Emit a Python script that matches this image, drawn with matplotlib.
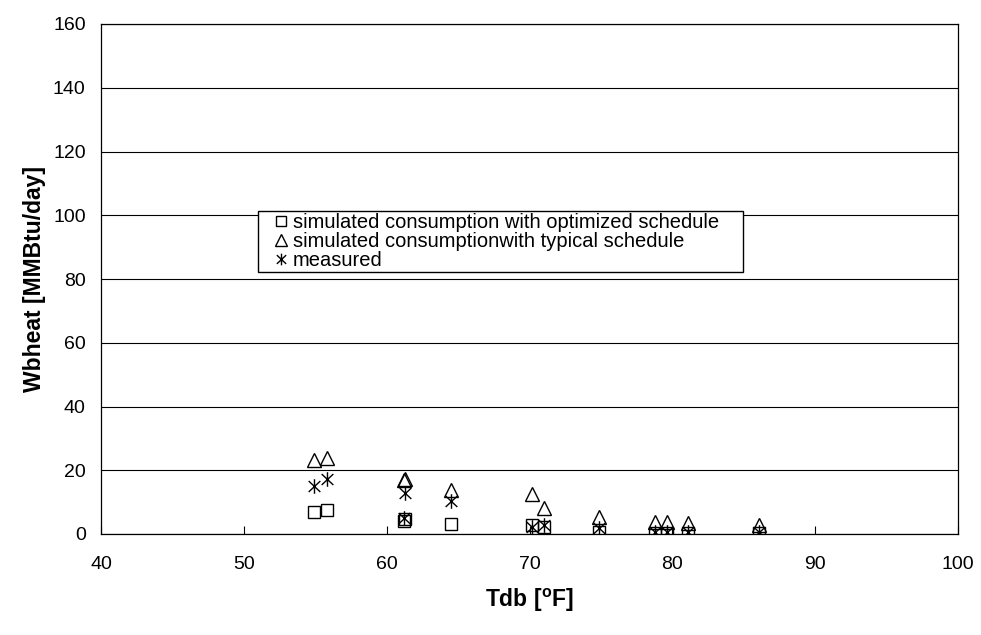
import matplotlib
matplotlib.use("Agg")
import matplotlib.pyplot as plt
from matplotlib.path import Path
from matplotlib.patches import Rectangle

plt.rcParams['font.family'] = ['Liberation Sans', 'DejaVu Sans']

# Data
tdb = [54.9, 55.8, 61.2, 61.3, 64.5, 70.2, 71.0, 74.9, 78.8, 79.6, 81.1, 86.1]
sim_optimized = [7.0, 7.5, 4.2, 4.6, 3.0, 2.7, 2.3, 0.6, 0.3, 0.3, 0.3, 0.3]
sim_typical = [23.2, 23.7, 16.8, 17.2, 13.8, 12.5, 8.2, 5.4, 3.9, 3.9, 3.3, 2.8]
measured = [15.0, 17.2, 4.9, 12.9, 10.4, 2.1, 2.8, 1.8, 0.7, 0.7, 0.7, 0.7]

labels = ["simulated consumption with optimized schedule",
          "simulated consumptionwith typical schedule",
          "measured"]
xticks = [40, 50, 60, 70, 80, 90, 100]
yticks = [0, 20, 40, 60, 80, 100, 120, 140, 160]

star = Path([(0, -1), (0, 1), (-0.8, -0.75), (0.8, 0.75), (-0.8, 0.75), (0.8, -0.75)],
            [Path.MOVETO, Path.LINETO, Path.MOVETO, Path.LINETO, Path.MOVETO, Path.LINETO])

fig = plt.figure(figsize=(9.81, 6.35), dpi=100)
ax = fig.add_axes([101/981, (635-534)/635, 857/981, 510/635])

ax.plot(tdb, sim_optimized, linestyle='none', marker='s', markersize=9,
        markerfacecolor='none', markeredgecolor='black', markeredgewidth=1.0, label=labels[0])
ax.plot(tdb, sim_typical, linestyle='none', marker='^', markersize=10,
        markerfacecolor='none', markeredgecolor='black', markeredgewidth=1.0, label=labels[1])
ax.plot(tdb, measured, linestyle='none', marker=star, markersize=10.5,
        markerfacecolor='none', markeredgecolor='black', markeredgewidth=1.0, label=labels[2])

ax.set_xlim(40, 100)
ax.set_ylim(0, 160)
ax.set_xticks(xticks)
ax.set_yticks(yticks)
ax.yaxis.grid(True, color='black', linewidth=0.8)
ax.set_axisbelow(True)
for s in ax.spines.values():
    s.set_color('black')
    s.set_linewidth(0.9)
ax.tick_params(axis='x', direction='in', length=6, labelsize=14, pad=16, width=0.8)
ax.tick_params(axis='y', direction='out', length=0, labelsize=14, pad=11, width=0.8)

ax.set_xlabel('Tdb [$\\mathregular{^{o}}$F]', fontsize=16.5, fontweight='bold', labelpad=10)
ax.set_ylabel('Wbheat [MMBtu/day]', fontsize=16.5, fontweight='bold', labelpad=5)

# legend box (frame drawn separately, like the reference)
bx0 = (258 - 101) / 857
bx1 = (743 - 101) / 857
by0 = (534 - 272) / 510
by1 = (534 - 211) / 510
ax.add_patch(Rectangle((bx0, by0), bx1 - bx0, by1 - by0, transform=ax.transAxes,
                       facecolor='white', edgecolor='black', linewidth=1.0, zorder=4))

lx0 = (274 - 101) / 857
ly1 = (534 - 213) / 510
leg = ax.legend(loc='upper left', bbox_to_anchor=(lx0, ly1),
                borderaxespad=0, fontsize=14.5, frameon=False,
                handlelength=0.7, handletextpad=0.25, labelspacing=0.0,
                borderpad=0.0, markerscale=0.8)
leg.set_zorder(5)

fig.savefig('out.png', dpi=100)
